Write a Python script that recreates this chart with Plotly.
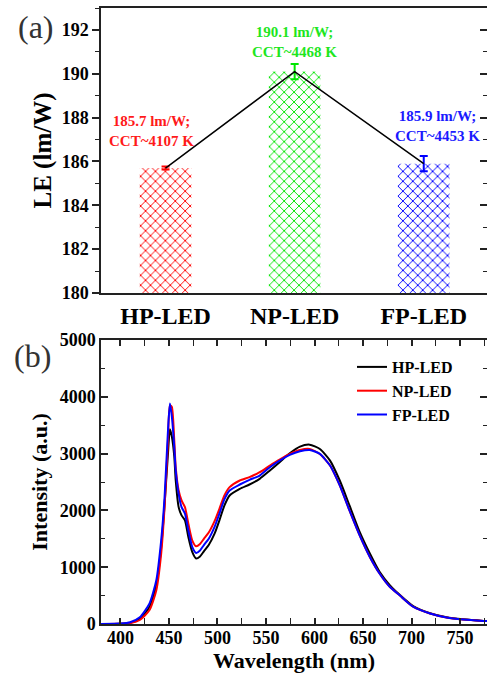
import plotly.graph_objects as go

# ---------------- data: panel (a) ----------------
devices = ["HP-LED", "NP-LED", "FP-LED"]
le_values = [185.7, 190.1, 185.9]
le_errors = [0.07, 0.35, 0.35]
cct_values = [4107, 4468, 4453]
bar_colors = ["#ff0000", "#00e600", "#0000ff"]
text_colors = ["#ff1a1a", "#1ee61e", "#1a1aff"]

# ---------------- data: panel (b) ----------------
wavelength = [380, 400, 410, 420, 430, 437, 442, 445.5, 449, 451, 453, 455.5, 457, 460, 463,
              466.5, 470, 474, 478, 482, 486, 491, 497, 502, 507, 512.5, 523, 533, 543.5, 554, 564,
              574.5, 585, 595, 605.5, 616, 626, 636, 646.5, 657, 667, 677.5, 688, 702, 719,
              736, 753, 774, 780]
hp_led = [0, 5, 20, 90, 300, 680, 1350, 2100, 3000, 3430, 3300, 2950, 2526, 2058, 1912,
          1825, 1532, 1269, 1152, 1190, 1280, 1390, 1590, 1825, 2080, 2263, 2380, 2456, 2556, 2702, 2848,
          3005, 3123, 3158, 3082, 2877, 2526, 2088, 1620, 1240, 918, 684, 509, 310, 190,
          118, 82, 55, 50]
np_led = [0, 3, 15, 70, 245, 596, 1240, 2058, 3228, 3850, 3820, 3228, 2760, 2351, 2175,
          2058, 1766, 1474, 1368, 1410, 1500, 1610, 1810, 2029, 2260, 2409, 2526, 2585, 2672, 2790, 2895,
          2994, 3064, 3082, 2994, 2790, 2439, 2000, 1561, 1181, 889, 655, 500, 300, 185,
          115, 80, 55, 50]
fp_led = [0, 8, 30, 117, 363, 772, 1474, 2234, 3403, 3880, 3650, 3111, 2702, 2292, 2058,
          1942, 1649, 1357, 1251, 1295, 1390, 1500, 1710, 1942, 2190, 2351, 2456, 2538, 2614, 2760, 2877,
          2976, 3041, 3064, 2994, 2790, 2439, 2000, 1561, 1181, 889, 655, 500, 300, 185,
          115, 80, 55, 50]
spectra = [("HP-LED", hp_led, "#000000"), ("NP-LED", np_led, "#ff0000"), ("FP-LED", fp_led, "#0000ff")]

FONT = "Liberation Serif, Times New Roman, Times, serif"
XDOM = [101 / 487, 1.0]
YDOM_A = [1 - 293 / 673, 1 - 8 / 673]
YDOM_B = [1 - 624 / 673, 1 - 340 / 673]

fig = go.Figure()

for dev, val, err, col in zip(devices, le_values, le_errors, bar_colors):
    fig.add_trace(go.Bar(
        x=[dev], y=[val], width=0.4, xaxis="x", yaxis="y", showlegend=False,
        marker=dict(color="white", line=dict(color="rgba(255,255,255,0)", width=0),
                    pattern=dict(shape="x", fgcolor=col, bgcolor="white", size=7, solidity=0.25,
                                 fgopacity=1)),
        error_y=dict(type="data", array=[err], color=col, thickness=2, width=4),
    ))
fig.add_trace(go.Scatter(x=devices, y=le_values, mode="lines", xaxis="x", yaxis="y",
                         line=dict(color="black", width=1.5), showlegend=False))

for name, ys, col in spectra:
    fig.add_trace(go.Scatter(x=wavelength, y=ys, mode="lines", name=name, xaxis="x2", yaxis="y2",
                             line=dict(color=col, width=2, shape="spline", smoothing=0.6)))

fig.add_trace(go.Scatter(x=[devices[0]], y=[le_values[0]], xaxis="x", yaxis="y3",
                         mode="markers", marker=dict(opacity=0), showlegend=False, hoverinfo="skip"))
fig.add_trace(go.Scatter(x=[wavelength[0]], y=[hp_led[0]], xaxis="x2", yaxis="y4",
                         mode="markers", marker=dict(opacity=0), showlegend=False, hoverinfo="skip"))

offsets = [-0.11, 0.0, 0.11]
ann_y = [187.4, 191.45, 187.6]
annotations = []
for i, (val, cct, tc) in enumerate(zip(le_values, cct_values, text_colors)):
    annotations.append(dict(
        x=i + offsets[i], y=ann_y[i], xref="x", yref="y", showarrow=False,
        text=f"<b>{val:.1f} lm/W;<br>CCT~{cct} K</b>",
        font=dict(family=FONT, size=15, color=tc), align="center"))
annotations.append(dict(x=36 / 487, y=1 - 27 / 673, xref="paper", yref="paper", showarrow=False,
                        xanchor="center", yanchor="middle",
                        text="(a)", font=dict(family=FONT, size=32, color="#333333")))
annotations.append(dict(x=32 / 487, y=1 - 356 / 673, xref="paper", yref="paper", showarrow=False,
                        xanchor="center", yanchor="middle",
                        text="(b)", font=dict(family=FONT, size=32, color="#333333")))

tickfont = dict(family=FONT, size=18, color="black", weight="bold")
axis_line = dict(showline=True, linecolor="#222222", linewidth=1.5, zeroline=False, showgrid=False,
                 automargin=False)

fig.update_layout(
    width=487, height=673, margin=dict(l=0, r=0, t=0, b=0, autoexpand=False),
    paper_bgcolor="white", plot_bgcolor="white", barmode="overlay",
    font=dict(family=FONT),
    annotations=annotations,
    xaxis=dict(domain=XDOM, anchor="y", type="category", range=[-0.5, 2.49], mirror=True,
               ticks="", tickfont=dict(family=FONT, size=24, color="black", weight="bold"),
               ticklabelstandoff=0, **axis_line),
    yaxis=dict(domain=YDOM_A, anchor="x", range=[180, 193], dtick=2, ticks="outside", ticklen=7,
               tickwidth=1.5, tickcolor="#222222",
               minor=dict(dtick=1, ticks="outside", ticklen=4, tickcolor="#222222", tickwidth=1.2),
               tickfont=tickfont,
               title=dict(text="<b>LE (lm/W)</b>", font=dict(family=FONT, size=25, color="black"),
                          standoff=3), **axis_line),
    yaxis3=dict(overlaying="y", side="right", anchor="x", range=[180, 193], dtick=2, ticks="inside",
                ticklen=7, tickwidth=1.5, tickcolor="#222222", showticklabels=False,
                minor=dict(dtick=1, ticks="inside", ticklen=4, tickcolor="#222222", tickwidth=1.2),
                showline=False, showgrid=False, zeroline=False, automargin=False),
    xaxis2=dict(domain=XDOM, anchor="y2", range=[380, 777.7], dtick=50, tick0=400, ticks="inside",
                ticklen=6, tickwidth=1.5, tickcolor="#222222", mirror="allticks",
                minor=dict(dtick=25, ticks="inside", ticklen=4, tickcolor="#222222", tickwidth=1.2),
                tickfont=tickfont, ticklabelstandoff=-3,
                title=dict(text="<b>Wavelength (nm)</b>", font=dict(family=FONT, size=22, color="black"),
                           standoff=9), **axis_line),
    yaxis2=dict(domain=YDOM_B, anchor="x2", range=[0, 5000], dtick=1000, ticks="inside", ticklen=7,
                tickwidth=1.5, tickcolor="#222222",
                minor=dict(dtick=500, ticks="inside", ticklen=4, tickcolor="#222222", tickwidth=1.2),
                tickfont=tickfont,
                title=dict(text="<b>Intensity (a.u.)</b>", font=dict(family=FONT, size=22, color="black"),
                           standoff=6), **axis_line),
    yaxis4=dict(overlaying="y2", side="right", anchor="x2", range=[0, 5000], dtick=1000, ticks="inside",
                ticklen=7, tickwidth=1.5, tickcolor="#222222", showticklabels=False,
                minor=dict(dtick=500, ticks="inside", ticklen=4, tickcolor="#222222", tickwidth=1.2),
                showline=False, showgrid=False, zeroline=False, automargin=False),
    legend=dict(x=352 / 487, y=1 - 350 / 673, xanchor="left", yanchor="top", bgcolor="rgba(0,0,0,0)",
                font=dict(family=FONT, size=16, color="black", weight="bold"), tracegroupgap=0,
                itemwidth=30),
    showlegend=True,
)

fig.write_html("out.html", config={"displayModeBar": False},
               post_script="document.body.style.margin='0px';")
